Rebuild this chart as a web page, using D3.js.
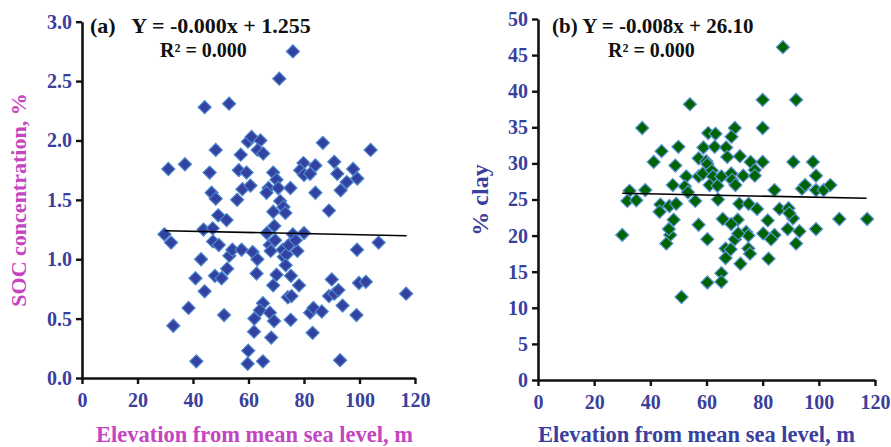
<!DOCTYPE html>
<html>
<head>
<meta charset="utf-8">
<script src="https://cdn.jsdelivr.net/npm/d3@7"></script>
<style>
  html, body { margin: 0; padding: 0; background: #fff; }
  svg { display: block; }
  .tick text { font-family: "Liberation Serif", "Times New Roman", serif; font-weight: bold; }
</style>
</head>
<body>
<svg id="chart" width="891" height="447"></svg>
<script>
// Panel (a): elevation (m) vs SOC concentration (%)
const socElevation = [76.0, 71.1, 44.2, 53.0, 59.8, 61.1, 64.3, 63.3, 65.3, 86.8, 104.0, 48.2, 57.2, 31.1, 37.1, 46.0,
  56.5, 59.3, 68.9, 70.1, 67.2, 57.8, 60.7, 66.5, 70.7, 75.1, 46.7, 48.2, 55.9, 71.4, 72.6, 68.9, 73.3, 49.1, 52.1,
  79.8, 78.6, 80.0, 82.2, 84.1, 90.9, 92.0, 93.2, 95.4, 97.7, 99.2, 84.1, 89.0, 29.7, 32.1, 43.8, 47.1, 47.2, 49.3,
  42.9, 40.9, 44.2, 47.9, 50.3, 52.3, 53.1, 54.2, 57.5, 61.5, 63.2, 62.9, 67.7, 68.0, 66.6, 69.3, 69.6, 72.3, 72.7,
  73.7, 74.5, 76.0, 77.6, 77.0, 80.0, 73.4, 70.1, 75.3, 68.9, 78.2, 74.2, 75.5, 38.4, 32.9, 51.2, 65.2, 64.1, 62.1,
  67.7, 69.2, 62.0, 68.2, 59.9, 41.2, 59.7, 65.2, 75.2, 82.2, 83.4, 86.4, 83.1, 93.0, 98.9, 93.9, 89.0, 90.9, 92.4,
  90.0, 99.1, 99.8, 102.3, 106.9, 116.8];
const socValue = [2.75, 2.52, 2.28, 2.31, 1.99, 2.03, 2.00, 1.92, 1.89, 1.98, 1.92, 1.92, 1.88, 1.76, 1.80, 1.73,
  1.75, 1.73, 1.73, 1.67, 1.60, 1.59, 1.62, 1.56, 1.60, 1.60, 1.56, 1.51, 1.50, 1.49, 1.44, 1.40, 1.39, 1.37, 1.33,
  1.81, 1.75, 1.71, 1.72, 1.79, 1.82, 1.72, 1.58, 1.65, 1.76, 1.68, 1.56, 1.41, 1.21, 1.14, 1.25, 1.26, 1.15, 1.12,
  1.00, 0.84, 0.73, 0.86, 0.84, 0.92, 1.03, 1.08, 1.08, 1.06, 1.00, 0.88, 1.12, 1.07, 1.22, 1.28, 1.16, 1.08, 1.02,
  1.04, 1.12, 1.21, 1.07, 1.16, 1.22, 0.95, 0.87, 0.86, 0.78, 0.78, 0.68, 0.69, 0.59, 0.44, 0.53, 0.63, 0.57, 0.50,
  0.55, 0.48, 0.39, 0.34, 0.23, 0.14, 0.12, 0.14, 0.49, 0.55, 0.59, 0.56, 0.38, 0.15, 0.53, 0.61, 0.69, 0.71, 0.74,
  0.83, 1.08, 0.80, 0.81, 1.14, 0.71];

// Panel (b): elevation (m) vs clay (%)
const clayElevation = [87.2, 54.1, 80.0, 91.9, 37.1, 80.0, 70.1, 68.9, 60.6, 63.2, 44.0, 50.0, 58.9, 62.9, 67.0,
  41.2, 48.9, 57.2, 59.9, 60.3, 67.4, 71.9, 75.7, 80.0, 90.9, 97.9, 52.8, 57.2, 58.7, 61.9, 62.3, 65.3, 68.8, 69.1,
  70.3, 73.1, 77.2, 77.2, 99.0, 48.0, 52.3, 53.4, 61.1, 63.9, 32.6, 38.2, 84.2, 94.0, 95.1, 99.0, 101.7, 104.1,
  31.8, 35.0, 56.0, 64.1, 43.6, 43.3, 46.8, 49.2, 71.7, 75.0, 78.0, 86.0, 89.2, 48.3, 65.8, 71.1, 68.8, 81.8, 90.8,
  107.3, 117.2, 57.2, 30.0, 47.1, 46.6, 45.7, 60.3, 70.1, 74.1, 74.9, 80.2, 84.2, 83.0, 88.9, 93.1, 99.0, 91.9,
  66.8, 68.6, 74.9, 75.5, 66.8, 72.1, 82.1, 65.3, 60.3, 65.3, 51.1, 89.5, 71.3];
const clayValue = [46.1, 38.2, 38.8, 38.8, 34.9, 34.9, 34.9, 33.7, 34.2, 34.1, 31.7, 32.3, 32.2, 32.3, 32.2,
  30.2, 29.7, 30.7, 30.3, 29.9, 30.9, 31.0, 30.2, 30.2, 30.2, 30.2, 28.2, 28.2, 28.6, 29.0, 28.2, 28.2, 28.6, 27.7,
  27.0, 28.3, 29.1, 28.3, 28.3, 27.0, 26.8, 26.0, 27.0, 26.9, 26.2, 26.3, 26.3, 26.5, 27.0, 26.3, 26.3, 27.0,
  24.8, 24.9, 24.8, 25.0, 24.3, 23.3, 24.1, 24.4, 24.4, 24.4, 23.7, 23.7, 23.8, 22.2, 22.3, 22.2, 21.6, 22.1, 22.4,
  22.3, 22.3, 21.5, 20.1, 20.1, 20.9, 18.9, 19.5, 19.5, 20.5, 20.0, 20.3, 20.1, 19.5, 20.9, 20.6, 20.9, 18.9,
  18.2, 18.1, 18.2, 17.5, 16.9, 16.1, 16.8, 14.8, 13.5, 13.6, 11.5, 23.1, 20.3];

// Fitted lines: [slope, intercept] and the elevation span they cover
const socFit = [-0.00049, 1.255];
const clayFit = [-0.008, 26.10];
const fitRange = [30, 117];

const xTicks = [0, 20, 40, 60, 80, 100, 120];
const socTicks = [0, 0.5, 1.0, 1.5, 2.0, 2.5, 3.0];
const clayTicks = [0, 5, 10, 15, 20, 25, 30, 35, 40, 45, 50];

const svg = d3.select("#chart");
const serif = "'Liberation Serif', 'Times New Roman', serif";
const tickBlue = "#3a3f9e";

function panel(cfg) {
  const x = d3.scaleLinear().domain([0, 120]).range(cfg.xRange);
  const y = d3.scaleLinear().domain(cfg.yDomain).range(cfg.yRange);
  const g = svg.append("g");

  // diamond markers
  const diamond = d3.symbol().type(d3.symbolSquare).size(86);
  g.append("g").selectAll("path")
    .data(cfg.xs.map((d, i) => [d, cfg.ys[i]]))
    .join("path")
    .attr("d", diamond)
    .attr("transform", d => `translate(${x(d[0])},${y(d[1])}) rotate(45)`)
    .attr("fill", cfg.fill)
    .attr("stroke", cfg.stroke)
    .attr("stroke-width", 1.2);

  // regression line drawn over the markers
  g.append("line")
    .attr("x1", x(fitRange[0])).attr("y1", y(cfg.fit[0] * fitRange[0] + cfg.fit[1]))
    .attr("x2", x(fitRange[1])).attr("y2", y(cfg.fit[0] * fitRange[1] + cfg.fit[1]))
    .attr("stroke", "#000").attr("stroke-width", 1.6);

  // axes
  const xAxis = g.append("g")
    .attr("transform", `translate(0,${cfg.yRange[0]})`)
    .call(d3.axisBottom(x).tickValues(xTicks).tickSize(6).tickSizeOuter(0).tickPadding(6));
  const yAxis = g.append("g")
    .attr("transform", `translate(${cfg.xRange[0]},0)`)
    .call(d3.axisLeft(y).tickValues(cfg.yTicks).tickFormat(cfg.yFormat).tickSize(6).tickSizeOuter(0).tickPadding(4));
  [xAxis, yAxis].forEach(a => {
    a.select(".domain").attr("stroke", "#111").attr("stroke-width", 2.6);
    a.selectAll(".tick line").attr("stroke", "#111").attr("stroke-width", 2.4);
    a.selectAll(".tick text").attr("fill", tickBlue).attr("font-size", 20);
  });
  xAxis.selectAll(".tick text").attr("dy", "0.85em");

  // equation text
  g.append("text")
    .attr("x", cfg.eqX).attr("y", 33)
    .attr("font-family", serif).attr("font-weight", "bold").attr("font-size", cfg.eqSize)
    .attr("fill", "#111").style("white-space", "pre")
    .text(cfg.eq);
  g.append("text")
    .attr("x", cfg.r2X).attr("y", 57)
    .attr("font-family", serif).attr("font-weight", "bold").attr("font-size", 20)
    .attr("fill", "#111")
    .text("R² = 0.000");

  // axis titles
  g.append("text")
    .attr("x", (cfg.xRange[0] + cfg.xRange[1]) / 2 + cfg.xTitleShift).attr("y", 442)
    .attr("text-anchor", "middle")
    .attr("font-family", serif).attr("font-weight", "bold").attr("font-size", 22.5)
    .attr("fill", cfg.titleColor)
    .text("Elevation from mean sea level, m");
  g.append("text")
    .attr("transform", `translate(${cfg.yTitleX},${cfg.yTitleY}) rotate(-90)`)
    .attr("text-anchor", "middle")
    .attr("font-family", serif).attr("font-weight", "bold").attr("font-size", cfg.yTitleSize)
    .attr("fill", cfg.titleColor)
    .text(cfg.yTitle);
}

panel({
  xs: socElevation, ys: socValue, fit: socFit,
  xRange: [82, 415], yRange: [378, 21.7], yDomain: [0, 3],
  yTicks: socTicks, yFormat: d3.format(".1f"),
  fill: "#3342a0", stroke: "#4d86cc",
  eq: "(a)   Y = -0.000x + 1.255", eqX: 90, eqSize: 22, r2X: 160,
  yTitle: "SOC concentration, %", yTitleX: 26, yTitleY: 200, yTitleSize: 22,
  titleColor: "#c545c0", xTitleShift: 6
});

panel({
  xs: clayElevation, ys: clayValue, fit: clayFit,
  xRange: [538, 875], yRange: [380, 19], yDomain: [0, 50],
  yTicks: clayTicks, yFormat: d3.format("d"),
  fill: "#006400", stroke: "#5b93d6",
  eq: "(b) Y = -0.008x + 26.10", eqX: 552, eqSize: 21, r2X: 608,
  yTitle: "% clay", yTitleX: 488, yTitleY: 200, yTitleSize: 24,
  titleColor: "#3a3f9e", xTitleShift: -10
});
</script>
</body>
</html>
